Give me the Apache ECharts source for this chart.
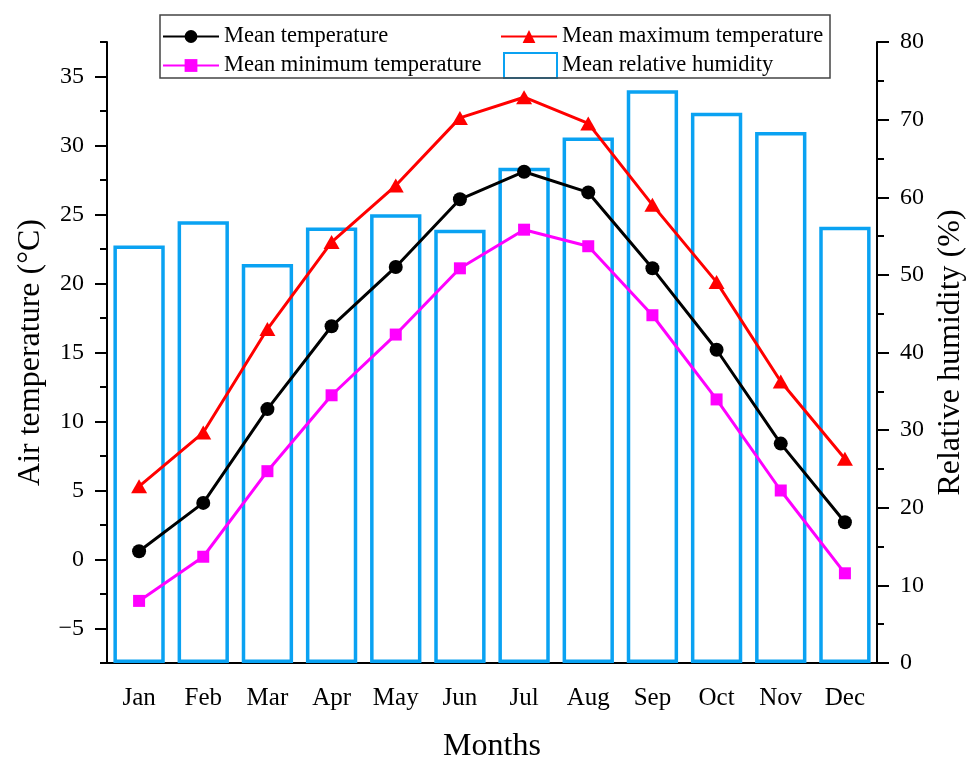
<!DOCTYPE html>
<html>
<head>
<meta charset="utf-8">
<script src="https://cdn.jsdelivr.net/npm/echarts@6/dist/echarts.min.js"></script>
<style>
  html, body { margin: 0; padding: 0; background: #fff; }
  #chart { width: 976px; height: 758px; }
</style>
</head>
<body>
<div id="chart"></div>
<script>
// Monthly climate normals
const months = ['Jan', 'Feb', 'Mar', 'Apr', 'May', 'Jun', 'Jul', 'Aug', 'Sep', 'Oct', 'Nov', 'Dec'];
const meanTemp = [0.6, 4.1, 10.9, 16.9, 21.2, 26.1, 28.1, 26.6, 21.1, 15.2, 8.4, 2.7];
const maxTemp = [5.3, 9.2, 16.7, 23.0, 27.1, 32.0, 33.5, 31.6, 25.7, 20.1, 12.9, 7.3];
const minTemp = [-3.0, 0.2, 6.4, 11.9, 16.3, 21.1, 23.9, 22.7, 17.7, 11.6, 5.0, -1.0];
const humidity = [53.8, 56.9, 51.4, 56.1, 57.8, 55.8, 63.8, 67.7, 73.8, 70.9, 68.4, 56.2];
const tempTicks = [-5, 0, 5, 10, 15, 20, 25, 30, 35];

const FONT = "'Liberation Serif', 'Times New Roman', serif";
const AXIS_COLOR = '#000';
const HUM_BLUE = '#0aa2f2';

const chart = echarts.init(document.getElementById('chart'), null, { renderer: 'canvas' });

const fmtTemp = v => (v < 0 ? '\u2212' + Math.abs(v) : String(v));
const legendText = { fontFamily: FONT, fontSize: 22.5, color: '#000' };

const option = {
  backgroundColor: '#fff',
  animation: false,
  textStyle: { fontFamily: FONT, color: '#000' },
  grid: { left: 107, right: 99, top: 42, bottom: 95, containLabel: false, outerBoundsMode: 'none' },
  graphic: [{
    type: 'rect',
    shape: { x: 160, y: 15, width: 670, height: 63 },
    style: { fill: 'none', stroke: '#444', lineWidth: 1.5 },
    z: 10
  }],
  legend: [
    {
      data: ['Mean temperature', 'Mean minimum temperature'],
      orient: 'vertical', left: 162, top: 25, padding: 0,
      itemWidth: 56, itemHeight: 16, itemGap: 6,
      textStyle: legendText
    },
    {
      data: ['Mean maximum temperature'],
      orient: 'vertical', left: 500, top: 25, padding: 0,
      itemWidth: 56, itemHeight: 16,
      textStyle: legendText
    },
    {
      data: [{ name: 'Mean relative humidity', icon: 'rect' }],
      orient: 'vertical', left: 503, top: 52, padding: 0,
      itemWidth: 53, itemHeight: 25,
      textStyle: legendText
    }
  ],
  xAxis: [
    {
      type: 'category', data: months, position: 'bottom', boundaryGap: true,
      name: 'Months', nameLocation: 'middle', nameGap: 68,
      nameTextStyle: { fontFamily: FONT, fontSize: 32, color: '#000' },
      axisLine: { onZero: false, lineStyle: { color: AXIS_COLOR, width: 2 } },
      axisTick: { alignWithLabel: false, length: 7, lineStyle: { color: AXIS_COLOR, width: 2 } },
      axisLabel: { fontFamily: FONT, fontSize: 25, color: '#000', margin: 23, interval: 0 },
      splitLine: { show: false }
    },
    {
      type: 'category', data: months, position: 'bottom', boundaryGap: true,
      axisLine: { show: false, onZero: false },
      axisTick: { alignWithLabel: true, length: 12, interval: 0, lineStyle: { color: AXIS_COLOR, width: 2 } },
      axisLabel: { show: false },
      splitLine: { show: false }
    }
  ],
  yAxis: [
    {
      type: 'value', position: 'left', min: -7.5, max: 37.5, interval: 2.5,
      name: 'Air temperature (\u00B0C)', nameLocation: 'middle', nameGap: 60,
      nameTextStyle: { fontFamily: FONT, fontSize: 32, color: '#000' },
      axisLine: { show: true, onZero: false, lineStyle: { color: AXIS_COLOR, width: 2 } },
      axisTick: { show: true, length: 7, lineStyle: { color: AXIS_COLOR, width: 2 } },
      axisLabel: {
        fontFamily: FONT, fontSize: 24, color: '#000', margin: 23,
        formatter: v => (Math.abs(v % 5) < 1e-9 ? fmtTemp(v) : '')
      },
      splitLine: { show: false }
    },
    {
      type: 'value', position: 'right', min: 0, max: 80, interval: 10,
      name: 'Relative humidity (%)', nameLocation: 'middle', nameGap: 58,
      nameTextStyle: { fontFamily: FONT, fontSize: 32, color: '#000' },
      axisLine: { show: true, onZero: false, lineStyle: { color: AXIS_COLOR, width: 2 } },
      axisTick: { show: true, length: 12, lineStyle: { color: AXIS_COLOR, width: 2 } },
      minorTick: { show: true, splitNumber: 2, length: 7, lineStyle: { color: AXIS_COLOR, width: 2 } },
      axisLabel: { fontFamily: FONT, fontSize: 24, color: '#000', margin: 23 },
      splitLine: { show: false },
      minorSplitLine: { show: false }
    },
    {
      // long ticks at the labelled temperatures
      type: 'value', position: 'left', min: -7.5, max: 37.5, interval: 2.5,
      axisLine: { show: false, onZero: false },
      axisTick: { show: true, length: 12, customValues: tempTicks, lineStyle: { color: AXIS_COLOR, width: 2 } },
      axisLabel: { show: false },
      splitLine: { show: false }
    }
  ],
  series: [
    {
      name: 'Mean relative humidity', type: 'bar', xAxisIndex: 0, yAxisIndex: 1,
      data: humidity, barWidth: '80%',
      itemStyle: { color: 'rgba(255,255,255,0)', borderColor: HUM_BLUE, borderWidth: 3.5 },
      z: 1
    },
    {
      name: 'Mean temperature', type: 'line', xAxisIndex: 0, yAxisIndex: 0,
      data: meanTemp, symbol: 'circle', symbolSize: 14,
      lineStyle: { color: '#000', width: 3 }, itemStyle: { color: '#000' }, z: 3
    },
    {
      name: 'Mean maximum temperature', type: 'line', xAxisIndex: 0, yAxisIndex: 0,
      data: maxTemp, symbol: 'triangle', symbolSize: [16, 14],
      lineStyle: { color: '#ff0000', width: 3 }, itemStyle: { color: '#ff0000' }, z: 3
    },
    {
      name: 'Mean minimum temperature', type: 'line', xAxisIndex: 0, yAxisIndex: 0,
      data: minTemp, symbol: 'rect', symbolSize: 12,
      lineStyle: { color: '#ff00ff', width: 3 }, itemStyle: { color: '#ff00ff' }, z: 3
    }
  ]
};

chart.setOption(option);
</script>
</body>
</html>
